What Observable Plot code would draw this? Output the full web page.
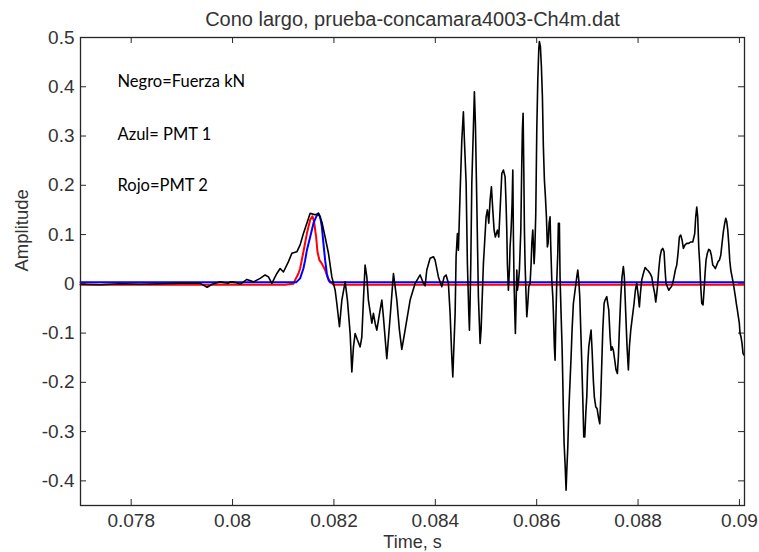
<!DOCTYPE html>
<html><head><meta charset="utf-8">
<script src="https://cdn.jsdelivr.net/npm/d3@7"></script>
<script src="https://cdn.jsdelivr.net/npm/@observablehq/plot@0.6"></script>
<style>html,body{margin:0;padding:0;background:#fff;} svg{display:block}</style>
</head><body><div id="chart"></div>
<script>
const title = "Cono largo, prueba-concamara4003-Ch4m.dat";
const xLabel = "Time, s";
const yLabel = "Amplitude";
const xTicks = [0.078, 0.080, 0.082, 0.084, 0.086, 0.088, 0.090];
const xTickLabels = ["0.078", "0.08", "0.082", "0.084", "0.086", "0.088", "0.09"];
const yTicks = [-0.4, -0.3, -0.2, -0.1, 0, 0.1, 0.2, 0.3, 0.4, 0.5];
const yTickLabels = ["-0.4", "-0.3", "-0.2", "-0.1", "0", "0.1", "0.2", "0.3", "0.4", "0.5"];

// Negro = Fuerza kN
const blackTime = [
0.077000,0.077389,0.077783,0.078178,0.078572,0.078966,0.079361,0.079499,0.079598,0.079755,0.079913,0.079953,
0.080051,0.080150,0.080282,0.080412,0.080544,0.080643,0.080708,0.080775,0.080874,0.080939,0.081004,0.081103,
0.081170,0.081268,0.081333,0.081398,0.081466,0.081531,0.081629,0.081694,0.081761,0.081826,0.081892,0.081959,
0.082024,0.082057,0.082109,0.082156,0.082221,0.082266,0.082320,0.082353,0.082385,0.082418,0.082464,0.082517,
0.082550,0.082582,0.082615,0.082649,0.082680,0.082748,0.082779,0.082813,0.082846,0.082911,0.082945,0.082976,
0.083043,0.083109,0.083174,0.083241,0.083292,0.083339,0.083404,0.083503,0.083602,0.083700,0.083765,0.083799,
0.083832,0.083897,0.083963,0.083996,0.084061,0.084128,0.084174,0.084213,0.084258,0.084292,0.084325,0.084345,
0.084357,0.084391,0.084410,0.084436,0.084456,0.084489,0.084523,0.084554,0.084574,0.084608,0.084633,0.084661,
0.084673,0.084686,0.084700,0.084720,0.084752,0.084771,0.084791,0.084819,0.084850,0.084884,0.084903,0.084949,
0.085002,0.085028,0.085055,0.085081,0.085107,0.085134,0.085160,0.085185,0.085225,0.085252,0.085278,
0.085312,0.085343,0.085377,0.085396,0.085410,0.085422,0.085442,0.085462,0.085475,0.085495,0.085515,0.085529,
0.085541,0.085554,0.085568,0.085580,0.085594,0.085608,0.085620,0.085639,0.085659,0.085687,0.085706,0.085718,
0.085732,0.085746,0.085758,0.085771,0.085791,0.085805,0.085825,0.085844,0.085870,0.085890,0.085904,0.085923,
0.085935,0.085949,0.085963,0.085982,0.086002,0.086022,0.086041,0.086053,0.086073,0.086093,0.086113,0.086132,
0.086152,0.086172,0.086192,0.086211,0.086225,0.086245,0.086264,0.086278,0.086298,0.086318,0.086330,0.086349,
0.086363,0.086377,0.086397,0.086416,0.086428,0.086448,0.086461,0.086481,0.086501,0.086515,0.086527,0.086541,
0.086560,0.086580,0.086594,0.086614,0.086633,0.086645,0.086659,0.086679,0.086698,0.086724,0.086758,0.086791,
0.086811,0.086830,0.086850,0.086870,0.086890,0.086909,0.086929,0.086949,0.086969,0.086988,0.087008,0.087028,
0.087053,0.087073,0.087093,0.087118,0.087138,0.087166,0.087191,0.087217,0.087245,0.087264,0.087284,0.087304,
0.087330,0.087349,0.087383,0.087402,0.087422,0.087448,0.087468,0.087487,0.087513,0.087540,0.087566,0.087592,
0.087612,0.087631,0.087659,0.087684,0.087710,0.087730,0.087757,0.087783,0.087809,0.087829,0.087856,0.087888,
0.087921,0.087947,0.087974,0.088006,
0.088026,0.088046,0.088073,0.088105,0.088139,0.088172,0.088203,0.088237,0.088270,0.088302,0.088329,0.088349,
0.088369,0.088389,0.088408,0.088434,0.088460,0.088487,0.088513,0.088533,0.088552,0.088578,0.088606,0.088631,
0.088657,0.088684,0.088710,0.088736,0.088763,0.088789,0.088815,0.088842,0.088868,0.088894,0.088927,0.088961,
0.089000,0.089040,0.089079,0.089118,0.089138,0.089158,0.089177,0.089197,0.089217,0.089237,0.089257,0.089282,
0.089302,0.089322,0.089341,0.089367,0.089395,0.089420,0.089446,0.089474,0.089499,0.089525,0.089552,0.089578,
0.089604,0.089632,0.089657,0.089683,0.089710,0.089730,0.089750,0.089770,0.089789,0.089809,0.089829,0.089855,
0.089880,0.089900,0.089920,0.089939,0.089959,0.089979,0.089998,0.090012,0.090032,0.090051,0.090071,0.090091
];
const blackAmp = [
-0.001,-0.002,0.000,-0.001,0.000,0.001,0.001,-0.007,-0.001,0.004,0.001,0.004,
0.003,-0.001,0.009,0.004,0.011,0.018,0.014,0.001,0.021,0.031,0.024,0.045,
0.062,0.065,0.079,0.102,0.123,0.143,0.140,0.143,0.126,0.095,0.062,0.014,
-0.013,-0.040,-0.087,-0.033,0.004,-0.033,-0.101,-0.179,-0.128,-0.101,-0.114,-0.128,
-0.108,-0.033,0.038,0.014,-0.033,-0.080,-0.060,-0.080,-0.094,-0.053,-0.033,-0.067,
-0.152,-0.067,0.021,-0.033,-0.094,-0.133,-0.094,-0.033,0.001,0.018,0.001,-0.004,
0.028,0.052,0.055,0.048,0.014,-0.006,0.014,0.018,0.001,-0.060,-0.148,-0.189,
-0.155,-0.060,0.055,0.102,0.068,0.184,0.292,0.349,0.292,0.204,0.041,-0.060,
-0.094,-0.040,0.041,0.204,0.319,0.390,0.326,0.163,-0.026,-0.121,-0.094,0.041,
0.136,0.150,0.123,0.170,0.197,0.150,0.109,0.095,0.109,0.095,0.150,
0.224,0.231,0.217,0.163,0.109,0.041,-0.013,0.028,0.075,0.109,0.163,0.231,
0.095,0.001,-0.060,-0.101,-0.040,0.028,-0.013,0.001,0.028,0.109,0.245,0.312,
0.346,0.231,0.109,0.041,-0.026,-0.067,-0.040,-0.006,0.001,0.041,0.082,0.109,
0.082,0.041,0.068,0.143,0.312,0.414,0.475,0.492,0.482,0.441,0.380,0.278,
0.211,0.177,0.136,0.075,0.082,0.123,0.136,0.075,0.008,-0.026,-0.060,-0.128,
-0.155,-0.080,0.008,0.062,0.123,0.123,0.014,-0.060,-0.128,-0.196,-0.263,-0.324,
-0.365,-0.419,-0.379,-0.331,-0.263,-0.230,-0.196,-0.148,-0.094,-0.040,-0.013,0.014,
0.028,0.008,-0.026,-0.094,-0.162,-0.230,-0.311,-0.311,-0.263,-0.230,-0.162,-0.128,
-0.108,-0.094,-0.135,-0.196,-0.230,-0.250,-0.253,-0.270,-0.284,-0.230,-0.162,-0.094,
-0.040,-0.033,-0.026,-0.040,-0.053,-0.108,-0.135,-0.128,-0.135,-0.155,-0.175,-0.182,
-0.148,-0.094,-0.026,0.014,0.035,0.014,-0.060,-0.128,-0.175,-0.128,-0.094,-0.067,
-0.040,-0.013,0.001,-0.026,
-0.047,-0.020,0.008,0.021,0.033,0.029,0.026,0.021,0.014,-0.006,-0.020,-0.037,
-0.020,0.001,0.028,0.055,0.068,0.072,0.065,0.028,0.001,-0.006,-0.013,-0.009,
-0.006,0.001,0.014,0.028,0.038,0.062,0.095,0.099,0.089,0.072,0.079,0.082,
0.082,0.085,0.085,0.102,0.136,0.156,0.136,0.075,0.041,-0.006,-0.040,-0.043,
-0.013,0.021,0.048,0.062,0.070,0.068,0.058,0.038,0.035,0.031,0.038,0.045,
0.048,0.058,0.082,0.106,0.123,0.133,0.126,0.109,0.082,0.048,0.028,0.014,
0.001,-0.013,-0.026,-0.040,-0.053,-0.067,-0.080,-0.101,-0.108,-0.121,-0.141,-0.145
];

// Azul = PMT 1
const blueTime = [0.077000,0.081254,0.081333,0.081398,0.081432,0.081466,0.081531,0.081596,0.081649,0.081694,0.081728,0.081761,0.081793,0.081826,0.081860,0.081892,0.081925,0.090091];
const blueAmp  = [0.003,0.003,0.011,0.031,0.048,0.068,0.095,0.123,0.136,0.143,0.136,0.116,0.082,0.048,0.021,0.008,0.003,0.003];

// Rojo = PMT 2
const redTime = [0.077000,0.081037,0.081201,0.081235,0.081300,0.081333,0.081398,0.081466,0.081531,0.081576,0.081609,0.081649,0.081675,0.081714,0.081761,0.081826,0.081872,0.081925,0.081990,0.090091];
const redAmp  = [-0.002,-0.002,0.000,0.008,0.021,0.031,0.065,0.102,0.130,0.137,0.126,0.095,0.065,0.048,0.041,0.028,0.014,0.004,-0.002,-0.002];

const notes = ["Negro=Fuerza kN", "Azul= PMT 1", "Rojo=PMT 2"];
const noteTime = [0.07773, 0.07773, 0.07773];
const noteAmp = [0.399, 0.292, 0.188];

const rows = (ts, vs) => ts.map((t, i) => ({t, v: vs[i]}));
const blackRows = rows(blackTime, blackAmp);
const blueRows = rows(blueTime, blueAmp);
const redRows = rows(redTime, redAmp);
const noteRows = notes.map((label, i) => ({label, t: noteTime[i], v: noteAmp[i]}));

const W = 759, H = 552, mL = 80, mR = 15, mT = 37, mB = 47;
const innerW = W - mL - mR, innerH = H - mT - mB, tk = 6;
const axisColor = "#262626";
const font = "'Liberation Sans', Arial, Helvetica, sans-serif";

const chart = Plot.plot({
  width: W, height: H,
  marginLeft: mL, marginRight: mR, marginTop: mT, marginBottom: mB,
  style: {fontFamily: font, fontSize: "19px", color: "#333", background: "#fff"},
  x: {domain: [0.077, 0.0901]},
  y: {domain: [-0.45, 0.5]},
  marks: [
    Plot.axisX(xTicks, {tickSize: 0, tickPadding: 8, label: null, fontSize: 19, fontFamily: font,
      tickFormat: d => xTickLabels[xTicks.indexOf(d)]}),
    Plot.axisY(yTicks, {tickSize: 0, tickPadding: 6, label: null, fontSize: 19, fontFamily: font,
      tickFormat: d => yTickLabels[yTicks.indexOf(d)]}),
    Plot.ruleX(xTicks, {insetTop: innerH - tk, stroke: axisColor}),
    Plot.ruleX(xTicks, {insetBottom: innerH - tk, stroke: axisColor}),
    Plot.ruleY(yTicks, {insetRight: innerW - tk, stroke: axisColor}),
    Plot.ruleY(yTicks, {insetLeft: innerW - tk, stroke: axisColor}),
    Plot.line(redRows, {x: "t", y: "v", stroke: "#ff0000", strokeWidth: 2}),
    Plot.line(blueRows, {x: "t", y: "v", stroke: "#0000ff", strokeWidth: 2}),
    Plot.line(blackRows, {x: "t", y: "v", stroke: "#000", strokeWidth: 1.6}),
    Plot.frame({stroke: axisColor, strokeWidth: 1.3}),
    Plot.text(noteRows, {x: "t", y: "v", text: "label", textAnchor: "start", lineAnchor: "bottom",
      fontFamily: "Lato, 'Open Sans', sans-serif", fontSize: 16.5, fill: "#000"}),
    Plot.text([title], {text: d => d, frameAnchor: "top", dy: -12, lineAnchor: "bottom", fontSize: 20, fontFamily: font, fill: "#333"}),
    Plot.text([xLabel], {text: d => d, frameAnchor: "bottom", dy: 30, lineAnchor: "top", fontSize: 18, fontFamily: font, fill: "#333"}),
    Plot.text([yLabel], {text: d => d, frameAnchor: "left", dx: -58, rotate: -90, lineAnchor: "middle", fontSize: 18.5, fontFamily: font, fill: "#333"})
  ]
});
document.getElementById("chart").appendChild(chart);
</script>
</body></html>
